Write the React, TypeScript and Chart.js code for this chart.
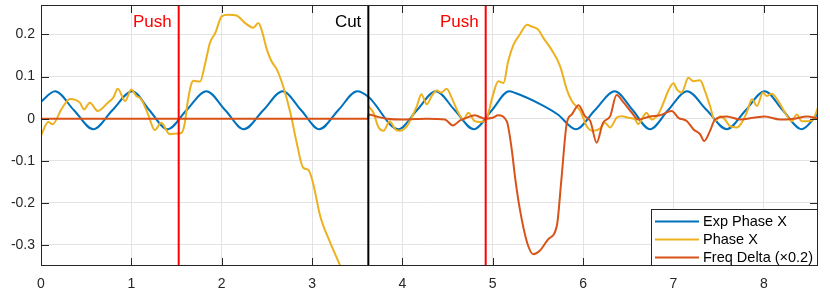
import { useEffect, useRef } from 'react';
import { Chart, registerables } from 'chart.js';

Chart.register(...registerables);

// ---------- data ----------
const seriesLabels = ['Exp Phase X', 'Phase X', 'Freq Delta (\u00d70.2)'];

const expX = [0, 0.155, 0.365, 0.578, 0.79, 1.01, 1.2, 1.4, 1.61, 1.83, 2.04, 2.245, 2.46, 2.675, 2.88, 3.08, 3.29, 3.5, 3.623, 3.955, 4.16, 4.37, 4.58, 4.79, 4.99, 5.18, 5.25, 5.53, 5.72, 5.92, 6.13, 6.35, 6.55, 6.74, 6.94, 7.15, 7.37, 7.59, 7.8, 8.01, 8.21, 8.42, 8.6];
const expY = [0.04, 0.065, 0.02, -0.025, 0.02, 0.065, 0.02, -0.025, 0.02, 0.065, 0.02, -0.025, 0.02, 0.065, 0.02, -0.025, 0.02, 0.065, 0.052, -0.025, 0.02, 0.065, 0.02, -0.025, 0.02, 0.065, 0.061, 0.034, 0.01, -0.025, 0.02, 0.065, 0.02, -0.025, 0.02, 0.065, 0.02, -0.025, 0.02, 0.065, 0.02, -0.025, 0.012];

const phaseX = [0, 0.08, 0.13, 0.225, 0.32, 0.43, 0.476, 0.54, 0.63, 0.74, 0.8, 0.85, 0.93, 1.0, 1.055, 1.11, 1.185, 1.26, 1.33, 1.425, 1.517, 1.555, 1.59, 1.62, 1.66, 1.69, 1.76, 1.815, 1.87, 1.93, 2.0, 2.07, 2.165, 2.26, 2.35, 2.405, 2.44, 2.5, 2.55, 2.61, 2.68, 2.76, 2.83, 2.9, 2.96, 3.01, 3.09, 3.2, 3.31, 3.4, 3.5,
  3.623, 3.68, 3.73, 3.79, 3.86, 3.92, 3.97, 4.05, 4.1, 4.16, 4.21, 4.27, 4.325, 4.38, 4.43, 4.49, 4.545, 4.62, 4.675, 4.73, 4.8, 4.86, 4.92, 5.0, 5.06, 5.12, 5.17, 5.23, 5.3, 5.38, 5.43, 5.5, 5.56, 5.65, 5.745, 5.82, 5.875, 5.97, 6.04, 6.11, 6.19, 6.24, 6.3, 6.37, 6.43, 6.5, 6.575, 6.61, 6.67, 6.7, 6.76, 6.83, 6.89, 6.94, 7.0, 7.04, 7.09, 7.165, 7.22, 7.295, 7.35, 7.405, 7.46, 7.52, 7.57, 7.625, 7.7, 7.755, 7.81, 7.87, 7.925, 7.99, 8.03, 8.09, 8.16, 8.235, 8.31, 8.365, 8.42, 8.49, 8.545, 8.6];
const phaseY = [-0.04, -0.008, -0.013, 0.022, 0.047, 0.038, 0.022, 0.038, 0.018, 0.038, 0.05, 0.071, 0.042, 0.069, 0.054, 0.046, 0.01, -0.027, -0.01, -0.037, -0.035, -0.034, -0.012, 0.035, 0.08, 0.09, 0.088, 0.129, 0.18, 0.204, 0.243, 0.247, 0.245, 0.227, 0.216, 0.227, 0.212, 0.164, 0.137, 0.117, 0.077, 0.014, -0.057, -0.116, -0.122, -0.152, -0.231, -0.294, -0.349, -0.4, null,
  0.03, 0.014, -0.018, -0.029, -0.006, -0.025, -0.029, -0.018, 0.002, 0.03, 0.058, 0.034, 0.054, 0.067, 0.062, 0.071, 0.05, 0.014, -0.002, 0.014, -0.006, -0.008, -0.005, 0.054, 0.089, 0.085, 0.136, 0.176, 0.2, 0.223, 0.219, 0.212, 0.192, 0.164, 0.125, 0.069, 0.042, 0.018, -0.018, -0.029, -0.023, -0.01, -0.021, 0.002, 0.006, 0.002, -0.002, -0.013, 0.006, 0.014, -0.002, 0.01, 0.038, 0.065, 0.084, 0.069, 0.062, 0.097, 0.089, 0.091, 0.065, 0.03, -0.006, 0.006, -0.002, -0.018, -0.021, -0.01, 0.014, 0.046, 0.03, 0.062, 0.054, 0.059, 0.042, 0.014, -0.006, 0.01, -0.006, -0.006, -0.002, 0.026];

const freqX = [0, 3.62, 3.625, 3.715, 3.83, 4.01, 4.27, 4.47, 4.56, 4.64, 4.71, 4.8, 4.915, 5.0, 5.06, 5.155, 5.21, 5.25, 5.3, 5.38, 5.45, 5.52, 5.615, 5.71, 5.76, 5.82, 5.875, 5.95, 6.02, 6.08, 6.15, 6.22, 6.3, 6.37, 6.45, 6.54, 6.61, 6.74, 6.85, 6.98, 7.055, 7.15, 7.22, 7.295, 7.34, 7.405, 7.46, 7.59, 7.74, 7.885, 8.01, 8.18, 8.33, 8.48, 8.6];
const freqY = [0, 0, 0.01, 0.005, 0, -0.002, 0, -0.002, -0.016, -0.004, 0.002, 0.008, 0, 0.002, 0.008, -0.006, -0.073, -0.144, -0.215, -0.294, -0.322, -0.314, -0.286, -0.254, -0.144, -0.01, 0.01, 0.032, 0.006, -0.006, -0.057, -0.01, 0.006, 0.056, 0.038, 0.014, -0.002, 0.005, 0.008, 0.018, 0.002, -0.006, -0.025, -0.037, -0.053, -0.029, -0.002, 0.005, -0.002, 0.002, 0.005, -0.002, 0, 0.005, 0];

const eventX = [1.524, 3.623, 4.922];
const eventLabels = ['Push', 'Cut', 'Push'];

const xTicks = [0, 1, 2, 3, 4, 5, 6, 7, 8];
const xTickLabels = ['0', '1', '2', '3', '4', '5', '6', '7', '8'];
const yTicks = [-0.3, -0.2, -0.1, 0, 0.1, 0.2];
const yTickLabels = ['-0.3', '-0.2', '-0.1', '0', '0.1', '0.2'];

const xRange = [0, 8.6];
const yRange = [-0.35, 0.27];

// ---------- styles ----------
const BLUE = '#0072BD';
const YELLOW = '#EDB120';
const ORANGE = '#D95319';
const eventColors = ['#FF0000', '#000000', '#FF0000'];
const AXIS = '#262626';
const FONT = '"Liberation Sans", Arial, Helvetica, sans-serif';

const pts = (xs: number[], ys: (number | null)[]) => xs.map((x, i) => ({ x, y: ys[i] }));

const framePlugin = {
  id: 'matlabFrame',
  afterDraw(chart: any) {
    const { ctx, chartArea: a, scales } = chart;
    const x = scales.x;
    const y = scales.y;
    ctx.save();
    ctx.strokeStyle = AXIS;
    ctx.lineWidth = 1;
    ctx.strokeRect(a.left + 0.5, a.top + 0.5, a.right - a.left - 1, a.bottom - a.top - 1);
    const tl = 8;
    ctx.beginPath();
    xTicks.forEach((v) => {
      const px = Math.round(x.getPixelForValue(v)) + 0.5;
      ctx.moveTo(px, a.bottom);
      ctx.lineTo(px, a.bottom - tl);
      ctx.moveTo(px, a.top);
      ctx.lineTo(px, a.top + tl);
    });
    yTicks.forEach((v) => {
      const py = Math.round(y.getPixelForValue(v)) + 0.5;
      ctx.moveTo(a.left, py);
      ctx.lineTo(a.left + tl, py);
      ctx.moveTo(a.right, py);
      ctx.lineTo(a.right - tl, py);
    });
    ctx.stroke();

    // event labels
    ctx.font = `17px ${FONT}`;
    ctx.textAlign = 'right';
    ctx.textBaseline = 'middle';
    eventX.forEach((v, i) => {
      ctx.fillStyle = eventColors[i];
      ctx.fillText(eventLabels[i], x.getPixelForValue(v) - 7, a.top + 17);
    });

    // legend
    const bw = 166;
    const bh = 57;
    const bx = a.right - 1 - bw;
    const by = a.bottom - bh;
    ctx.fillStyle = '#ffffff';
    ctx.fillRect(bx, by, bw, bh);
    ctx.strokeStyle = AXIS;
    ctx.lineWidth = 1;
    ctx.strokeRect(bx + 0.5, by + 0.5, bw, bh - 1);
    const cols = [BLUE, YELLOW, ORANGE];
    ctx.font = `14.5px ${FONT}`;
    ctx.textAlign = 'left';
    ctx.textBaseline = 'middle';
    seriesLabels.forEach((lab, i) => {
      const ry = by + 12.5 + i * 18;
      ctx.strokeStyle = cols[i];
      ctx.lineWidth = 2;
      ctx.beginPath();
      ctx.moveTo(bx + 4, ry);
      ctx.lineTo(bx + 48, ry);
      ctx.stroke();
      ctx.fillStyle = '#000000';
      ctx.fillText(lab, bx + 52, ry + 0.5);
    });
    ctx.restore();
  },
};

export default function App() {
  const ref = useRef<HTMLCanvasElement | null>(null);

  useEffect(() => {
    document.body.style.margin = '0';
    if (!ref.current) return;
    const lineDs = (label: string, data: any[], color: string, order: number) => ({
      label,
      data,
      borderColor: color,
      backgroundColor: color,
      borderWidth: 2,
      pointRadius: 0,
      fill: false,
      cubicInterpolationMode: 'monotone' as const,
      spanGaps: false,
      order,
    });
    const eventDs = eventX.map((v, i) => ({
      label: eventLabels[i],
      data: [
        { x: v, y: yRange[0] },
        { x: v, y: yRange[1] },
      ],
      borderColor: eventColors[i],
      borderWidth: 2,
      pointRadius: 0,
      fill: false,
      order: 0,
    }));
    const chart = new Chart(ref.current, {
      type: 'line',
      data: {
        datasets: [
          lineDs(seriesLabels[0], pts(expX, expY), BLUE, 3),
          lineDs(seriesLabels[1], pts(phaseX, phaseY), YELLOW, 2),
          lineDs(seriesLabels[2], pts(freqX, freqY), ORANGE, 1),
          ...eventDs,
        ],
      },
      options: {
        animation: false,
        responsive: false,
        events: [],
        layout: { padding: { top: 5, right: 12, left: 0, bottom: 0 } },
        plugins: { legend: { display: false }, tooltip: { enabled: false } },
        scales: {
          x: {
            type: 'linear',
            min: xRange[0],
            max: xRange[1],
            afterBuildTicks: (s: any) => {
              s.ticks = xTicks.map((v) => ({ value: v }));
            },
            afterFit: (s: any) => {
              s.height = 24;
              s.paddingLeft = 0;
              s.paddingRight = 0;
            },
            grid: { color: '#e3e3e3', drawTicks: false },
            border: { display: false },
            ticks: {
              padding: 10,
              color: AXIS,
              font: { family: FONT, size: 14 },
              maxRotation: 0,
              callback: (v: any) => {
                const i = xTicks.indexOf(Number(v));
                return i >= 0 ? xTickLabels[i] : '';
              },
            },
          },
          y: {
            type: 'linear',
            min: yRange[0],
            max: yRange[1],
            afterBuildTicks: (s: any) => {
              s.ticks = yTicks.map((v) => ({ value: v }));
            },
            afterFit: (s: any) => {
              s.width = 41;
              s.paddingTop = 0;
              s.paddingBottom = 0;
            },
            grid: { color: '#e3e3e3', drawTicks: false },
            border: { display: false },
            ticks: {
              padding: 6,
              color: AXIS,
              font: { family: FONT, size: 14 },
              callback: (v: any) => {
                const i = yTicks.findIndex((t) => Math.abs(t - Number(v)) < 1e-9);
                return i >= 0 ? yTickLabels[i] : '';
              },
            },
          },
        },
      },
      plugins: [framePlugin],
    });
    return () => chart.destroy();
  }, []);

  return (
    <div style={{ width: 830, height: 290 }}>
      <canvas ref={ref} width={830} height={290} style={{ display: 'block' }} />
    </div>
  );
}
